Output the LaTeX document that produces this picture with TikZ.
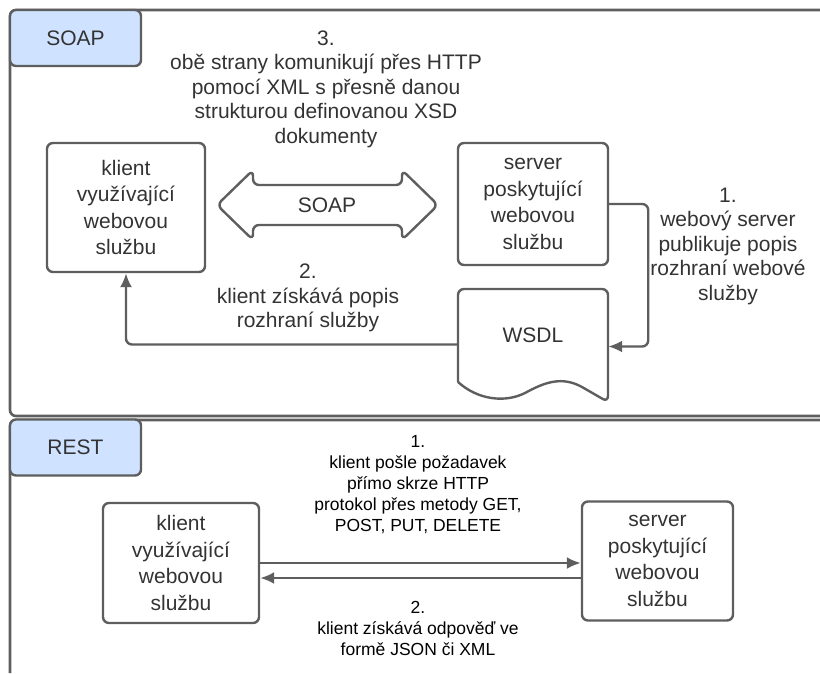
\documentclass[tikz,border=0pt]{standalone}
\usepackage{fontspec}
\setmainfont{Liberation Sans}
\usetikzlibrary{arrows.meta,positioning}
\definecolor{linegray}{RGB}{94,94,94}
\definecolor{textgray}{RGB}{51,51,51}
\definecolor{tabblue}{RGB}{207,226,255}

\tikzset{
  frame/.style = {draw=linegray, line width=2.6pt, rounded corners=6pt},
  tab/.style = {draw=linegray, fill=tabblue, line width=2.4pt, rounded corners=6pt,
                minimum width=131pt, minimum height=56pt, text=textgray,
                font=\fontsize{21}{26}\selectfont},
  box/.style = {draw=linegray, line width=2.4pt, rounded corners=6pt, align=center,
                text=textgray, font=\fontsize{21}{26.5}\selectfont},
  lbl/.style = {align=center, text=textgray, font=\fontsize{21}{24.5}\selectfont},
  rlbl/.style = {align=center, text=black, font=\fontsize{17.5}{21}\selectfont},
  line/.style = {draw=linegray, line width=2.4pt}
}

\begin{document}
\begin{tikzpicture}[x=1pt, y=-1pt, >={Latex[length=14pt,width=12pt]}, rounded corners=6pt]
   \clip (0,0) rectangle (820,673);
   % SOAP part
   \draw[frame] (840,10) -- (10,10) -- (10,416) -- (840,416);
   \node[tab] (soaptab) at (75.5,38) {SOAP};
   \node[box, minimum width=158pt, minimum height=129pt] (kl) at (126,207.5)
        {klient\\využívající\\webovou\\službu};
   \node[box, minimum width=150pt, minimum height=122pt] (srv) at (533,204)
        {server\\poskytující\\webovou\\službu};
   \node[minimum width=150pt, minimum height=93pt, text=textgray,
         font=\fontsize{21}{26}\selectfont] (wsdl) at (533,335.5) {WSDL};
   \draw[line] (458,382) -- (458,289) -- (608,289) -- (608,402) [sharp corners]
        -- (582,387) .. controls (562,376) and (545,382) .. (525,393)
        .. controls (505,403) and (478,400) .. (458,382);
   \draw[line] (217,205) -- (253,170) -- (253,185) -- (402,185) -- (402,170)
        -- (438,205) -- (402,240) -- (402,225) -- (253,225) -- (253,240) -- cycle;
   \node[text=textgray, font=\fontsize{21}{26}\selectfont] (soaparrow) at (327,205) {SOAP};
   \node[lbl] (lbl3) at (326,89) {3.\\obě strany komunikují přes HTTP\\pomocí XML s přesně danou\\strukturou definovanou XSD\\dokumenty};
   \node[lbl] (lbl1) at (728,246) {1.\\webový server\\publikuje popis\\rozhraní webové\\služby};
   \node[lbl] (lbl2) at (308,298) {2.\\klient získává popis\\rozhraní služby};
   \draw[line, ->] (srv.east) -- ++(39,0) |- ([yshift=-11pt]wsdl.east);
   \draw[line, ->] ([yshift=-9pt]wsdl.west) -| (kl.south);
   % REST part
   \draw[frame] (840,420) -- (10,420) -- (10,700);
   \node[tab] (resttab) at (75.5,447.5) {REST};
   \node[box, minimum width=156pt, minimum height=120pt] (rkl) at (181,563)
        {klient\\využívající\\webovou\\službu};
   \node[box, minimum width=151pt, minimum height=119pt] (rsrv) at (657.5,561)
        {server\\poskytující\\webovou\\službu};
   \node[rlbl] (rlbl1) at (418,485) {1.\\klient pošle požadavek\\přímo skrze HTTP\\protokol přes metody GET,\\POST, PUT, DELETE};
   \node[rlbl] (rlbl2) at (418,628) {2.\\klient získává odpověď ve\\formě JSON či XML};
   \draw[line, ->] (rkl.east) -- (rkl.east -| rsrv.west);
   \draw[line, ->] ([yshift=-15pt]rkl.east -| rsrv.west) -- ([yshift=-15pt]rkl.east);
\end{tikzpicture}
\end{document}
